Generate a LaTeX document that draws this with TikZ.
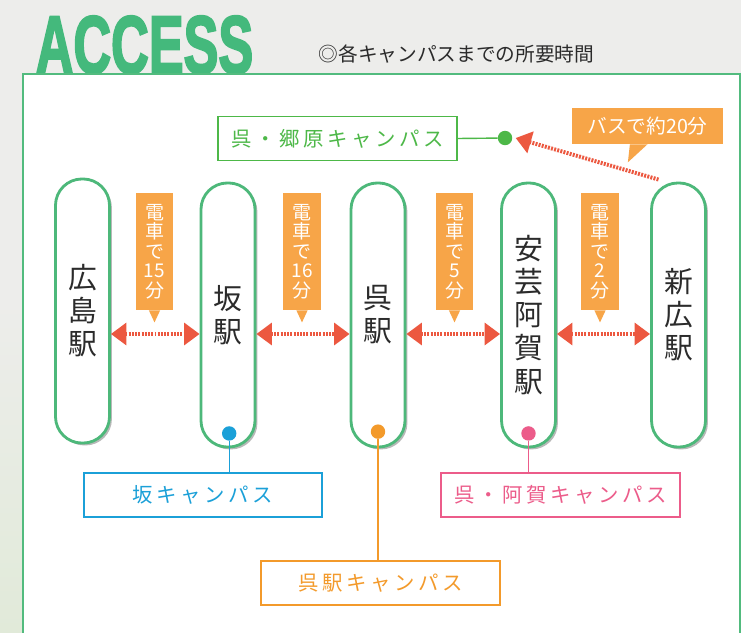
\documentclass[tikz,border=0pt]{standalone}
\usepackage{fontspec}
\setmainfont{Noto Sans CJK JP}
\newfontfamily\titlefont{Liberation Sans}[BoldFeatures={FakeBold=3}]
\usetikzlibrary{arrows.meta,shadows}

\definecolor{bggrey}{HTML}{EDEDEB}
\definecolor{bggreen}{HTML}{E1EAD9}
\definecolor{titlegreen}{HTML}{44B97C}
\definecolor{framegreen}{HTML}{52BB7E}
\definecolor{stationgreen}{HTML}{4DB87A}
\definecolor{calloutorange}{HTML}{F7A548}
\definecolor{railred}{HTML}{EC5840}
\definecolor{campusgreen}{HTML}{4DB848}
\definecolor{campusblue}{HTML}{1BA0D8}
\definecolor{campuspink}{HTML}{EC5C8A}
\definecolor{campusorange}{HTML}{F39A2B}
\definecolor{inkgrey}{HTML}{2B2B2B}

\tikzset{
  station/.style={draw=stationgreen, line width=2pt, fill=white,
    rounded corners=0.66cm, minimum width=1.35cm, minimum height=6.6cm,
    inner sep=0pt, align=center, text=inkgrey,
    font=\fontsize{20.5}{23.5}\selectfont,
    drop shadow={shadow xshift=0.06cm, shadow yshift=-0.06cm, fill=black!28, opacity=1}},
  timebox/.style={fill=calloutorange, text=white, minimum width=0.93cm,
    minimum height=2.93cm, inner sep=0pt, align=center,
    font=\fontsize{13.5}{13.8}\selectfont},
  pointer/.style={fill=calloutorange},
  rail/.style={draw=railred, line width=2.8pt, dash pattern=on 1.4pt off 0.9pt,
    {Triangle[length=11pt,width=15.5pt]}-{Triangle[length=11pt,width=15.5pt]}},
  busrail/.style={draw=railred, line width=2.8pt, dash pattern=on 1.4pt off 0.9pt,
    -{Triangle[length=11pt,width=15.5pt]}},
  campus/.style={draw=#1, line width=1.4pt, fill=white, text=#1,
    minimum width=5.95cm, minimum height=1.1cm, inner sep=0pt,
    font=\fontsize{14.5}{16}\selectfont\addfontfeature{LetterSpace=18}},
  campusdot/.style={circle, fill=#1, minimum size=0.36cm, inner sep=0pt},
  campusline/.style={draw=#1, line width=1pt}
}

\begin{document}
\begin{tikzpicture}[x=0.025cm, y=-0.025cm]
  \useasboundingbox (0,0) rectangle (741,632);
  \clip (0,0) rectangle (741,632);

  % background
  \fill[bggrey] (0,0) rectangle (741,632);
  \shade[top color=bggrey, bottom color=bggreen] (0,300) rectangle (23,632);

  % title
  \node[anchor=base, inner sep=0pt, xscale=0.64, text=titlegreen,
    font=\titlefont\bfseries\fontsize{58}{58}\selectfont] (title) at (144.5,73) {ACCESS};
  \node[anchor=base, inner sep=0pt, text=inkgrey, font=\fontsize{14}{16}\selectfont]
    (subtitle) at (456.5,61) {◎各キャンパスまでの所要時間};

  % frame
  \draw[framegreen, fill=white, line width=1.5pt] (23,74) rectangle (740,660);

  % stations
  \node[station] (hiroshima) at (82.5,311) {広\\島\\駅};
  \node[station] (saka) at (228,315) {坂\\駅};
  \node[station] (kure) at (378,315) {呉\\駅};
  \node[station] (aga) at (528.5,315) {安\\芸\\阿\\賀\\駅};
  \node[station] (shinhiro) at (678.5,315) {新\\広\\駅};

  % travel times
  \node[timebox] (t1) at (154.5,251.5) {電\\車\\で\\15\\分};
  \node[timebox] (t2) at (302,251.5) {電\\車\\で\\16\\分};
  \node[timebox] (t3) at (454.5,251.5) {電\\車\\で\\5\\分};
  \node[timebox] (t4) at (600,251.5) {電\\車\\で\\2\\分};
  \foreach \t in {t1,t2,t3,t4}
    \fill[pointer] ([xshift=-0.14cm]\t.south) -- ([xshift=0.14cm]\t.south)
      -- ([yshift=-0.3cm]\t.south) -- cycle;

  % rails
  \coordinate (row) at (0,334);
  \draw[rail] (hiroshima.east |- row) -- (saka.west |- row);
  \draw[rail] (saka.east |- row) -- (kure.west |- row);
  \draw[rail] (kure.east |- row) -- (aga.west |- row);
  \draw[rail] (aga.east |- row) -- (shinhiro.west |- row);

  % campuses
  \node[campus=campusgreen] (gouhara) at (337.5,138.5) {呉・郷原キャンパス};
  \node[campus=campusblue] (sakacampus) at (203,495) {坂キャンパス};
  \node[campus=campusorange] (kurecampus) at (380.5,583) {呉駅キャンパス};
  \node[campus=campuspink] (agacampus) at (560.5,495) {呉・阿賀キャンパス};

  \node[campusdot=campusgreen] (gdot) at (505,138) {};
  \node[campusdot=campusblue] (bdot) at ([xshift=0.03cm,yshift=0.375cm]saka.south) {};
  \node[campusdot=campusorange] (odot) at ([yshift=0.42cm]kure.south) {};
  \node[campusdot=campuspink] (pdot) at ([yshift=0.375cm]aga.south) {};

  \draw[campusline=campusgreen] (gouhara.east) -- (gdot);
  \draw[campusline=campusblue] (bdot) -- (bdot |- sakacampus.north);
  \draw[campusline=campusorange] (odot) -- (odot |- kurecampus.north);
  \draw[campusline=campuspink] (pdot) -- (pdot |- agacampus.north);

  % bus
  \draw[busrail] ([xshift=-0.5cm,yshift=0.05cm]shinhiro.north) -- ([xshift=0.08cm]gdot.east);
  \node[fill=calloutorange, text=white, minimum width=3.78cm, minimum height=0.9cm,
    inner sep=0pt, font=\fontsize{14}{16}\selectfont] (bus) at (647.5,126) {バスで約20分};
  \fill[pointer] ([xshift=-0.44cm]bus.south) -- (bus.south)
    -- ([xshift=-0.49cm,yshift=-0.45cm]bus.south) -- cycle;
\end{tikzpicture}
\end{document}
